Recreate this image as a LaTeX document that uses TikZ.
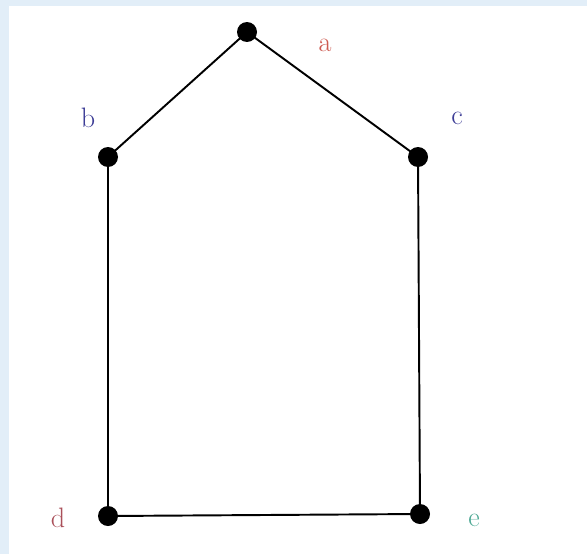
\documentclass[tikz,border=0pt]{standalone}
\usepackage{tikz}
\usetikzlibrary{positioning,calc}
\definecolor{framebl}{RGB}{226,238,248}
\definecolor{lblred}{RGB}{205,90,80}
\definecolor{lblblue}{RGB}{60,60,150}
\definecolor{lbldred}{RGB}{170,80,90}
\definecolor{lblteal}{RGB}{80,170,150}
\tikzset{
  vert/.style={circle,fill=black,inner sep=0pt,minimum size=0.4cm},
  lbl/.style={font=\fontsize{16}{18}\selectfont}
}
\begin{document}
\begin{tikzpicture}[x=0.02cm,y=-0.02cm]
                        % frame
                        \fill[framebl] (0,0) rectangle (587,554);
                        \fill[white] (9,6) rectangle (587,554);
                        \useasboundingbox (0,0) rectangle (587,554);
                        % vertices
                        \node[vert] (a) at (247,32) {};
                        \node[vert] (b) at (108,157) {};
                        \node[vert] (c) at (418,157) {};
                        \node[vert] (d) at (108,516) {};
                        \node[vert] (e) at (420,514) {};
                        % edges
                        \draw[line width=1.1pt] (a.center) -- (b.center) -- (d.center) -- (e.center) -- (c.center) -- (a.center);
                        % labels
                        \node[lbl,text=lblred] (la) at (325,45) {a};
                        \node[lbl,text=lblblue] (lb) at (88,118) {b};
                        \node[lbl,text=lblblue] (lc) at (457,118) {c};
                        \node[lbl,text=lbldred] (ld) at (58,518) {d};
                        \node[lbl,text=lblteal] (le) at (474,520) {e};
                    \end{tikzpicture}
\end{document}
